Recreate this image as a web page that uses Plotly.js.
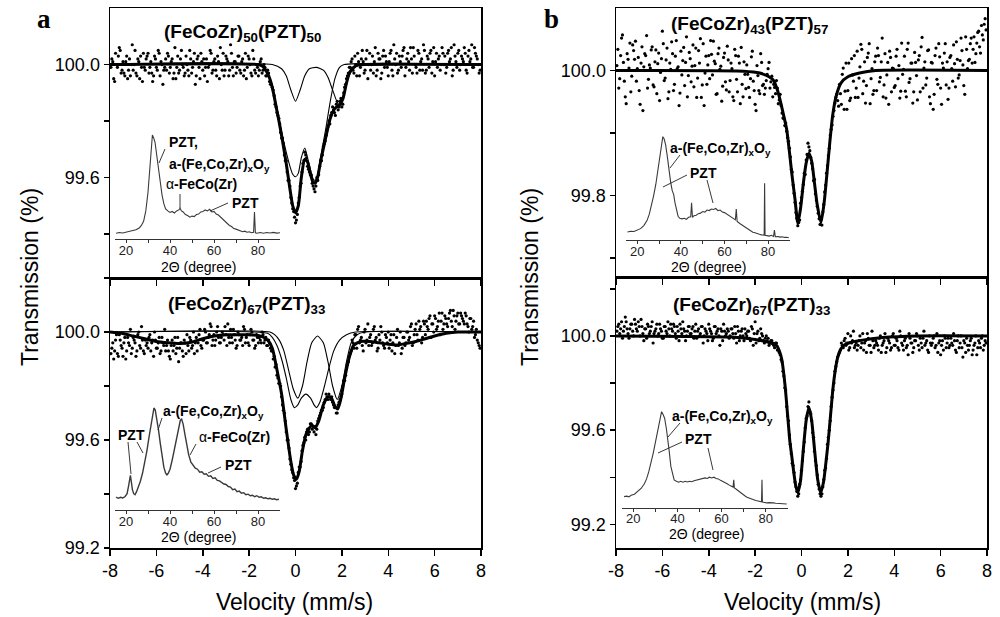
<!DOCTYPE html>
<html>
<head>
<meta charset="utf-8">
<script src="https://cdn.plot.ly/plotly-3.0.1.min.js"></script>
<style>html,body{margin:0;padding:0;background:#fff;}#chart{width:1000px;height:617px;}</style>
</head>
<body>
<div id="chart"></div>
<script>
// ---------- Mössbauer velocity channels (mm/s), two interleaved channel sets ----------
const vel = [
-7.92,-7.84,-7.76,-7.68,-7.60,-7.52,-7.44,-7.36,-7.28,-7.20,
-7.12,-7.04,-6.96,-6.88,-6.80,-6.72,-6.64,-6.56,-6.48,-6.40,
-6.32,-6.24,-6.16,-6.08,-6.00,-5.92,-5.84,-5.76,-5.68,-5.60,
-5.52,-5.44,-5.36,-5.28,-5.20,-5.12,-5.04,-4.96,-4.88,-4.80,
-4.72,-4.64,-4.56,-4.48,-4.40,-4.32,-4.24,-4.16,-4.08,-4.00,
-3.92,-3.84,-3.76,-3.68,-3.60,-3.52,-3.44,-3.36,-3.28,-3.20,
-3.12,-3.04,-2.96,-2.88,-2.80,-2.72,-2.64,-2.56,-2.48,-2.40,
-2.32,-2.24,-2.16,-2.08,-2.00,-1.92,-1.84,-1.76,-1.68,-1.60,
-1.52,-1.44,-1.36,-1.28,-1.20,-1.12,-1.04,-0.96,-0.88,-0.80,
-0.72,-0.64,-0.56,-0.48,-0.40,-0.32,-0.24,-0.16,-0.08,0.00,
0.08,0.16,0.24,0.32,0.40,0.48,0.56,0.64,0.72,0.80,
0.88,0.96,1.04,1.12,1.20,1.28,1.36,1.44,1.52,1.60,
1.68,1.76,1.84,1.92,2.00,2.08,2.16,2.24,2.32,2.40,
2.48,2.56,2.64,2.72,2.80,2.88,2.96,3.04,3.12,3.20,
3.28,3.36,3.44,3.52,3.60,3.68,3.76,3.84,3.92,4.00,
4.08,4.16,4.24,4.32,4.40,4.48,4.56,4.64,4.72,4.80,
4.88,4.96,5.04,5.12,5.20,5.28,5.36,5.44,5.52,5.60,
5.68,5.76,5.84,5.92,6.00,6.08,6.16,6.24,6.32,6.40,
6.48,6.56,6.64,6.72,6.80,6.88,6.96,7.04,7.12,7.20,
7.28,7.36,7.44,7.52,7.60,7.68,7.76,7.84,7.92];
const vel2 = [
-7.96,-7.88,-7.80,-7.72,-7.64,-7.56,-7.48,-7.40,-7.32,-7.24,
-7.16,-7.08,-7.00,-6.92,-6.84,-6.76,-6.68,-6.60,-6.52,-6.44,
-6.36,-6.28,-6.20,-6.12,-6.04,-5.96,-5.88,-5.80,-5.72,-5.64,
-5.56,-5.48,-5.40,-5.32,-5.24,-5.16,-5.08,-5.00,-4.92,-4.84,
-4.76,-4.68,-4.60,-4.52,-4.44,-4.36,-4.28,-4.20,-4.12,-4.04,
-3.96,-3.88,-3.80,-3.72,-3.64,-3.56,-3.48,-3.40,-3.32,-3.24,
-3.16,-3.08,-3.00,-2.92,-2.84,-2.76,-2.68,-2.60,-2.52,-2.44,
-2.36,-2.28,-2.20,-2.12,-2.04,-1.96,-1.88,-1.80,-1.72,-1.64,
-1.56,-1.48,-1.40,-1.32,-1.24,-1.16,-1.08,-1.00,-0.92,-0.84,
-0.76,-0.68,-0.60,-0.52,-0.44,-0.36,-0.28,-0.20,-0.12,-0.04,
0.04,0.12,0.20,0.28,0.36,0.44,0.52,0.60,0.68,0.76,
0.84,0.92,1.00,1.08,1.16,1.24,1.32,1.40,1.48,1.56,
1.64,1.72,1.80,1.88,1.96,2.04,2.12,2.20,2.28,2.36,
2.44,2.52,2.60,2.68,2.76,2.84,2.92,3.00,3.08,3.16,
3.24,3.32,3.40,3.48,3.56,3.64,3.72,3.80,3.88,3.96,
4.04,4.12,4.20,4.28,4.36,4.44,4.52,4.60,4.68,4.76,
4.84,4.92,5.00,5.08,5.16,5.24,5.32,5.40,5.48,5.56,
5.64,5.72,5.80,5.88,5.96,6.04,6.12,6.20,6.28,6.36,
6.44,6.52,6.60,6.68,6.76,6.84,6.92,7.00,7.08,7.16,
7.24,7.32,7.40,7.48,7.56,7.64,7.72,7.80,7.88,7.96];

// ---------- measured transmission (%) ----------
const ptsA50 = [
100.02,99.95,100.04,99.99,100.06,99.97,100.01,99.96,100.03,99.98,
99.96,100.07,100.00,99.97,100.02,99.95,99.99,100.04,99.98,100.03,
99.97,100.01,99.94,100.03,99.99,100.05,99.96,100.00,99.98,100.02,
100.04,99.97,100.01,99.95,100.06,99.99,99.97,100.02,100.00,99.96,
100.03,99.98,100.05,99.97,100.01,99.93,100.02,99.99,100.04,99.98,
99.96,100.02,99.99,100.05,99.97,100.01,99.98,100.03,99.95,100.00,
100.04,99.98,100.02,99.96,100.07,99.99,100.01,99.97,100.03,99.98,
100.01,99.96,100.04,99.99,100.02,99.97,100.05,99.98,100.00,99.96,
100.01,99.97,100.00,99.96,99.98,99.94,99.93,99.91,99.86,99.83,
99.81,99.76,99.74,99.68,99.66,99.59,99.57,99.51,99.48,99.44,
99.47,99.53,99.58,99.65,99.69,99.67,99.63,99.61,99.58,99.56,
99.57,99.59,99.64,99.66,99.71,99.73,99.77,99.80,99.82,99.85,
99.83,99.86,99.84,99.87,99.85,99.90,99.93,99.96,99.99,100.01,
99.98,100.03,99.96,100.01,99.99,100.05,99.97,100.02,99.95,100.04,
100.00,99.97,100.06,99.98,100.02,99.95,100.03,99.99,100.01,99.96,
100.04,99.98,100.07,100.00,99.97,100.03,99.99,100.05,99.96,100.02,
100.01,100.06,99.97,100.03,99.99,100.05,99.98,100.02,100.07,99.97,
100.03,99.99,100.05,100.01,99.96,100.04,100.02,99.98,100.06,100.00,
99.97,100.04,100.01,100.06,99.98,100.03,99.99,100.05,100.00,100.02,
100.06,99.98,100.03,100.01,100.07,99.99,100.04,100.02,99.97];
const ptsA50b = [
99.99,100.01,99.94,100.00,100.03,100.05,99.98,99.97,100.01,99.95,
100.02,100.00,99.98,100.05,99.96,100.01,100.03,99.94,99.99,100.02,
100.04,99.99,99.97,99.96,100.02,99.98,100.04,100.01,99.93,99.99,
99.98,100.03,99.99,100.02,99.97,99.95,100.03,99.98,100.05,99.99,
99.97,100.00,99.96,100.02,99.99,100.04,99.96,100.03,99.95,100.01,
100.02,99.99,99.94,100.00,100.04,99.98,100.02,99.96,100.01,100.06,
99.98,99.96,100.03,100.01,99.98,100.04,99.96,100.01,99.99,100.03,
99.97,100.02,99.98,99.95,100.03,100.00,99.96,100.02,99.97,99.99,
99.98,100.02,99.98,99.99,99.96,99.97,99.93,99.92,99.89,99.85,
99.82,99.79,99.74,99.72,99.66,99.62,99.59,99.53,99.49,99.46,
99.45,99.51,99.57,99.62,99.66,99.68,99.64,99.62,99.61,99.57,
99.55,99.60,99.61,99.66,99.68,99.72,99.75,99.78,99.79,99.83,
99.84,99.82,99.87,99.85,99.88,99.86,99.92,99.95,99.97,99.99,
100.02,99.97,100.00,100.04,99.96,100.02,100.01,99.98,100.05,100.00,
99.98,100.03,100.01,99.96,100.04,100.02,99.97,100.05,100.03,99.99,
100.01,100.05,99.96,100.02,100.04,99.98,100.01,100.03,100.06,99.99,
100.04,99.98,100.02,100.06,100.00,99.97,100.04,100.01,99.98,100.05,
99.98,100.02,100.04,99.97,100.06,100.01,99.99,100.03,100.00,100.04,
100.03,99.99,100.05,100.02,99.96,100.07,100.01,100.04,99.98,100.03,
100.01,100.04,99.97,100.05,100.02,99.99,100.06,100.03,100.00,99.98];

const ptsA67 = [
99.94,99.90,99.97,99.92,99.99,99.95,99.91,99.98,99.93,99.96,
100.01,99.94,99.97,99.91,99.99,99.95,100.02,99.93,99.97,99.96,
99.98,99.93,99.97,100.00,99.94,99.96,99.92,99.98,99.95,99.93,
99.97,99.91,99.95,99.93,99.98,99.94,99.89,99.96,99.93,99.97,
99.92,99.95,99.98,99.94,100.00,99.96,99.93,99.99,99.95,99.97,
100.01,99.96,99.98,100.03,99.95,99.99,99.97,100.02,99.96,99.98,
99.99,100.02,99.95,99.98,100.01,99.96,99.99,99.94,100.00,99.97,
99.98,100.02,99.96,99.99,99.95,100.01,99.97,99.94,99.99,99.96,
99.97,100.00,99.96,99.98,99.95,99.96,99.93,99.90,99.87,99.84,
99.81,99.80,99.73,99.70,99.63,99.60,99.53,99.49,99.46,99.42,
99.44,99.50,99.52,99.58,99.61,99.63,99.62,99.66,99.64,99.63,
99.62,99.67,99.69,99.71,99.72,99.75,99.76,99.77,99.75,99.74,
99.72,99.70,99.73,99.75,99.77,99.82,99.84,99.88,99.91,99.93,
99.96,99.99,99.94,100.02,99.97,99.95,100.00,99.96,100.03,99.98,
99.95,100.01,99.97,99.93,99.99,100.02,99.96,99.94,99.98,100.00,
99.97,99.93,99.99,99.95,100.01,99.96,99.92,99.98,99.95,100.00,
99.97,100.02,99.95,99.99,100.03,99.97,100.01,99.96,100.04,99.99,
100.02,100.05,99.98,100.03,100.06,100.01,100.04,99.99,100.07,100.03,
100.05,100.02,100.07,100.04,100.08,100.01,100.06,100.03,100.07,100.05,
100.03,100.06,100.02,100.05,100.01,100.04,99.99,99.97,99.95];
const ptsA67b = [
99.92,99.96,99.93,99.99,99.91,99.97,99.94,99.96,99.90,99.98,
99.95,99.92,99.98,99.96,99.93,100.00,99.94,99.97,99.92,99.95,
99.94,99.99,99.96,99.91,99.97,99.94,99.98,99.93,99.96,100.01,
99.95,99.93,99.90,99.97,99.95,99.92,99.98,99.94,99.96,99.91,
99.96,99.99,99.93,99.97,99.95,99.92,99.98,99.96,100.01,99.94,
99.97,100.00,99.96,99.99,100.02,99.97,99.95,100.00,99.98,99.96,
100.00,99.97,99.99,100.03,99.96,99.98,100.01,99.97,99.95,99.99,
99.97,99.95,100.01,99.98,99.96,99.99,100.00,99.97,99.95,99.98,
99.98,99.96,99.99,99.97,99.95,99.97,99.94,99.93,99.91,99.88,
99.83,99.81,99.76,99.71,99.67,99.60,99.57,99.51,99.48,99.45,
99.43,99.48,99.50,99.56,99.59,99.60,99.64,99.63,99.66,99.65,
99.65,99.64,99.68,99.70,99.71,99.74,99.77,99.75,99.76,99.76,
99.73,99.72,99.70,99.74,99.76,99.80,99.82,99.87,99.89,99.92,
99.97,99.94,99.99,100.01,99.96,99.98,99.93,100.01,99.97,99.95,
99.99,99.96,100.02,99.98,99.94,99.97,100.00,99.95,99.99,99.96,
99.94,99.99,99.96,99.92,99.98,99.95,100.00,99.94,99.98,99.96,
100.00,99.98,100.03,99.96,100.01,99.99,100.04,100.02,99.98,100.03,
100.04,100.01,100.06,100.03,100.00,100.05,100.02,100.07,100.04,100.01,
100.06,100.03,100.05,100.08,100.02,100.06,100.04,100.07,100.03,100.06,
100.04,100.07,100.03,100.00,100.05,100.02,99.98,100.01,99.96,99.94];

const ptsB43 = [
100.034,99.987,100.052,100.013,99.958,100.027,100.004,99.966,100.041,100.018,
99.983,100.021,99.946,100.038,100.006,100.024,99.972,100.009,100.033,99.977,
100.014,99.963,100.028,99.997,100.063,99.984,100.017,99.955,100.012,100.046,
99.968,100.023,100.003,99.944,100.031,100.016,99.976,100.054,99.992,100.019,
100.007,99.974,100.036,99.988,100.012,99.957,100.043,99.996,99.978,100.024,
100.048,99.993,100.015,99.962,100.027,100.002,99.951,100.021,99.982,100.039,
99.966,100.012,99.958,100.034,99.986,100.023,99.947,99.978,100.014,99.971,
99.994,99.957,100.022,99.983,99.946,100.008,99.968,100.027,99.976,99.962,
99.984,100.003,99.972,99.991,99.978,99.963,99.972,99.953,99.944,99.924,
99.912,99.903,99.887,99.862,99.838,99.804,99.773,99.752,99.761,99.797,
99.818,99.834,99.866,99.878,99.861,99.843,99.826,99.793,99.772,99.754,
99.753,99.786,99.817,99.848,99.876,99.906,99.927,99.948,99.962,99.943,
99.963,99.994,99.938,100.012,99.968,99.952,100.019,99.983,99.957,100.031,
99.988,100.042,99.963,100.014,99.976,100.028,99.947,100.003,99.968,100.023,
100.036,99.982,100.014,99.958,100.027,99.993,99.946,100.021,100.004,99.973,
100.023,99.987,99.956,100.044,100.002,99.967,100.034,99.981,100.012,99.948,
100.029,99.992,100.017,99.966,100.053,100.004,99.977,100.032,99.958,100.013,
99.938,100.024,99.986,100.043,99.972,100.012,100.028,99.977,99.954,100.021,
100.003,100.041,99.974,100.018,99.993,100.052,100.009,99.962,100.034,100.016,
100.043,100.012,100.054,100.027,100.061,100.038,100.072,100.049,100.083];
const ptsB43b = [
100.008,99.972,100.024,100.057,99.983,99.947,100.018,100.044,99.991,100.032,
100.047,100.003,99.968,100.012,99.936,100.027,100.056,99.986,100.004,100.038,
99.974,100.033,100.011,99.952,100.019,100.043,99.988,100.036,99.966,100.002,
100.027,99.978,100.048,100.006,99.964,99.993,100.037,100.013,99.958,100.029,
99.982,100.041,100.008,99.957,100.032,100.051,99.977,99.944,100.023,100.009,
99.987,100.026,100.047,100.011,99.963,100.036,100.007,99.975,100.028,99.969,
100.017,99.984,100.003,99.952,100.024,99.966,100.012,100.037,99.958,99.994,
100.009,99.973,99.987,100.031,99.968,99.936,99.992,99.963,100.013,99.978,
99.972,99.994,100.013,99.982,99.958,99.973,99.984,99.947,99.962,99.932,
99.923,99.916,99.893,99.876,99.842,99.817,99.789,99.764,99.757,99.788,
99.807,99.836,99.857,99.884,99.872,99.852,99.824,99.803,99.783,99.763,
99.762,99.774,99.806,99.836,99.864,99.897,99.913,99.936,99.957,99.952,
99.978,99.946,100.004,99.967,99.938,100.012,99.956,99.993,100.024,99.972,
99.957,100.006,100.034,99.983,99.948,100.021,100.043,99.987,99.962,100.014,
99.968,100.024,99.989,100.052,99.977,99.956,100.013,100.031,99.966,100.003,
99.976,100.034,100.008,99.967,99.994,100.023,99.958,100.044,99.987,100.012,
99.966,100.013,99.953,100.024,100.038,99.972,100.014,99.988,100.033,99.947,
100.012,99.962,100.036,99.978,100.022,99.946,100.004,100.043,100.014,99.972,
100.024,99.983,100.011,100.046,99.988,100.016,100.032,99.976,100.054,100.003,
100.018,100.052,100.034,100.013,100.044,100.063,100.028,100.057,100.074,100.065];

const ptsB67 = [
100.04,100.01,100.06,100.02,100.08,100.03,99.99,100.05,100.02,100.07,
100.03,100.06,100.00,100.04,99.98,100.03,100.05,100.01,100.04,99.97,
100.02,100.05,100.01,100.03,99.99,100.04,100.02,100.06,100.00,100.03,
100.05,100.01,100.04,99.98,100.03,100.06,100.02,100.00,100.04,100.01,
100.03,99.99,100.05,100.02,100.00,100.04,99.97,100.03,100.01,100.05,
100.02,99.98,100.04,100.01,100.03,99.96,100.02,100.05,100.00,100.03,
99.99,100.03,100.01,100.04,99.97,100.02,100.00,100.03,99.98,100.01,
100.02,99.99,100.04,99.96,100.06,100.01,99.98,100.03,100.00,99.97,
100.00,99.99,99.97,99.98,99.96,99.97,99.94,99.93,99.90,99.85,
99.78,99.70,99.64,99.54,99.46,99.42,99.36,99.32,99.37,99.43,
99.51,99.61,99.66,99.72,99.67,99.59,99.51,99.45,99.37,99.33,
99.33,99.39,99.44,99.54,99.60,99.70,99.77,99.85,99.89,99.92,
99.94,99.96,99.98,99.96,100.01,99.95,99.97,100.02,99.96,99.94,
99.98,99.95,100.01,99.97,99.93,99.99,99.96,100.02,99.95,99.98,
99.96,99.99,99.93,99.97,100.01,99.95,99.98,99.94,100.00,99.96,
99.99,99.95,100.02,99.97,99.94,99.99,99.96,100.01,99.97,99.93,
99.98,100.01,99.96,99.99,99.95,100.02,99.97,99.94,100.00,99.96,
99.99,99.95,100.01,99.97,99.92,99.98,100.00,99.95,99.99,99.96,
99.97,100.01,99.94,99.98,99.95,100.00,99.91,99.97,99.99,99.94,
99.98,99.92,99.96,100.00,99.95,99.97,99.99,99.94,99.98];
const ptsB67b = [
100.02,100.05,100.03,99.99,100.04,100.06,100.01,100.03,100.05,100.00,
100.05,100.02,100.04,100.07,100.01,100.03,99.99,100.04,100.02,100.06,
100.01,100.03,100.00,100.05,100.02,99.99,100.04,100.01,100.03,100.05,
100.02,100.04,99.99,100.02,100.05,100.01,100.03,99.98,100.02,100.04,
100.01,100.04,100.02,99.99,100.03,100.01,100.04,100.00,100.02,99.98,
100.03,100.01,99.99,100.04,100.02,100.00,100.03,99.98,100.02,100.01,
100.02,100.00,100.03,99.99,100.01,100.04,99.98,100.02,100.00,100.03,
100.00,100.02,99.98,100.03,100.01,99.97,100.02,99.99,100.01,99.98,
99.99,99.98,99.96,99.98,99.97,99.95,99.97,99.94,99.92,99.89,
99.83,99.77,99.66,99.58,99.50,99.45,99.38,99.34,99.33,99.39,
99.47,99.55,99.65,99.70,99.68,99.64,99.57,99.47,99.41,99.35,
99.32,99.36,99.43,99.48,99.57,99.64,99.74,99.80,99.87,99.91,
99.93,99.97,99.95,99.99,99.97,99.94,100.00,99.98,99.95,99.97,
99.96,100.00,99.97,99.94,99.98,100.01,99.96,99.93,99.98,99.96,
99.97,99.94,100.00,99.96,99.98,99.93,99.99,99.97,99.95,100.01,
99.96,99.98,99.94,100.00,99.96,99.98,99.95,99.92,99.99,99.97,
99.95,99.98,100.00,99.94,99.97,99.99,99.96,99.98,99.93,99.97,
99.97,100.00,99.96,99.93,99.98,99.96,99.94,99.99,99.97,99.95,
99.99,99.96,99.98,99.93,100.00,99.97,99.95,99.98,99.93,99.96,
99.96,99.99,99.94,99.97,99.92,99.98,99.95,100.00,99.96,99.97];

// ---------- fitted envelopes and subspectra ----------
const fitA50_v = [-8,-1.6,-1.4,-1.25,-1.1,-0.95,-0.81,-0.69,-0.57,-0.4,-0.24,-0.12,0,0.12,0.25,0.4,0.52,0.64,0.75,0.85,0.95,1.1,1.3,1.5,1.7,1.9,2.05,2.2,2.35,2.5,2.7,3,8];
const fitA50_T = [100,100,99.993,99.975,99.948,99.90,99.84,99.79,99.735,99.65,99.56,99.50,99.476,99.50,99.60,99.665,99.655,99.615,99.585,99.58,99.60,99.665,99.74,99.81,99.845,99.857,99.88,99.935,99.975,99.99,99.998,100,100];
const subA50a_v = [-8,-1.4,-1.1,-0.95,-0.81,-0.69,-0.57,-0.4,-0.24,-0.12,0,0.12,0.25,0.4,0.52,0.64,0.75,0.85,0.95,1.1,1.3,1.5,1.7,1.9,2.1,8];
const subA50a_T = [100,99.993,99.95,99.905,99.85,99.80,99.75,99.69,99.64,99.612,99.603,99.615,99.67,99.705,99.67,99.63,99.597,99.59,99.61,99.68,99.77,99.87,99.95,99.99,100,100];
const subA50b_v = [-8,-1,-0.6,-0.4,-0.2,0,0.2,0.4,0.6,0.9,1.2,1.4,1.6,1.85,2.05,2.25,2.5,2.8,8];
const subA50b_T = [100,100,99.985,99.96,99.91,99.87,99.91,99.96,99.985,99.99,99.98,99.955,99.91,99.86,99.89,99.95,99.985,100,100];

const fitA67_v = [-8,-7.5,-7,-6.5,-6,-5.5,-5,-4.5,-4,-3.5,-3,-2.5,-2,-1.5,-1.2,-1,-0.8,-0.6,-0.4,-0.2,-0.08,0.04,0.15,0.3,0.45,0.6,0.72,0.84,1,1.2,1.4,1.55,1.7,1.82,1.95,2.1,2.3,2.5,2.8,3.2,3.6,4,4.4,4.8,5.2,5.6,6,6.5,7,8];
const fitA67_T = [100,99.995,99.985,99.975,99.965,99.96,99.957,99.962,99.975,99.985,99.99,99.99,99.99,99.985,99.97,99.94,99.86,99.77,99.64,99.52,99.47,99.455,99.48,99.56,99.62,99.645,99.655,99.645,99.67,99.73,99.76,99.755,99.725,99.715,99.75,99.82,99.90,99.95,99.965,99.965,99.96,99.955,99.952,99.958,99.965,99.975,99.985,99.995,100,100];
const subA67a_v = [-8,-1.2,-1,-0.8,-0.6,-0.4,-0.2,-0.05,0.1,0.25,0.45,0.65,0.8,0.9,1.05,1.25,1.45,1.65,1.9,2.2,2.6,8];
const subA67a_T = [100,99.995,99.98,99.95,99.90,99.83,99.75,99.72,99.73,99.755,99.77,99.755,99.73,99.72,99.74,99.80,99.87,99.93,99.97,99.99,100,100];
const subA67b_v = [-8,-1.1,-0.9,-0.7,-0.5,-0.3,-0.1,0.1,0.3,0.5,0.7,0.95,1.2,1.4,1.6,1.8,2.0,2.2,2.4,2.65,3,8];
const subA67b_T = [100,100,99.99,99.97,99.93,99.86,99.79,99.755,99.80,99.89,99.96,99.985,99.96,99.89,99.80,99.75,99.80,99.89,99.96,99.99,100,100];

const fitB43_v = [-8,-2.5,-1.8,-1.4,-1.2,-1.05,-0.93,-0.78,-0.64,-0.52,-0.42,-0.28,-0.16,-0.04,0.08,0.2,0.32,0.44,0.56,0.68,0.84,0.98,1.1,1.22,1.35,1.5,1.7,2,2.5,3.2,8];
const fitB43_T = [100,99.999,99.996,99.99,99.984,99.97,99.954,99.93,99.906,99.87,99.836,99.794,99.756,99.78,99.82,99.852,99.868,99.855,99.82,99.785,99.757,99.79,99.836,99.885,99.93,99.96,99.98,99.99,99.996,100,100];

const fitB67_v = [-8,-3,-2,-1.5,-1.2,-1.07,-0.95,-0.85,-0.71,-0.6,-0.5,-0.42,-0.35,-0.25,-0.16,-0.05,0.08,0.2,0.32,0.44,0.56,0.7,0.83,0.95,1.05,1.15,1.25,1.35,1.45,1.55,1.7,1.85,2.1,2.5,3.5,5,8];
const fitB67_T = [100,99.995,99.985,99.975,99.965,99.959,99.935,99.90,99.79,99.665,99.55,99.49,99.434,99.365,99.335,99.38,99.52,99.64,99.697,99.64,99.52,99.39,99.335,99.38,99.46,99.55,99.66,99.77,99.85,99.905,99.945,99.962,99.972,99.98,99.993,100,100];

// ---------- XRD insets: 2Theta (deg) and intensity (arb.) ----------
const xrdA50_t = [15.5,17,18.5,20,21.5,23,24.5,26,27,28,29,30,30.8,31.5,32,32.6,33.2,34,34.8,35.6,36.4,37.2,38,39,40,41,42,43,44,44.6,45.2,46,47,48,49,50,51,52,53,54,55,56,57,58,59,60,61,62,63,64,65,66,67,68,69,70,71,72,73,74,75,76,77,78,78.4,78.8,79.5,81,82.5,84,85.5,87,88.5,90];
const xrdA50_i = [5.5,6.2,5.8,6.5,6.8,7.5,8.8,10.5,13,17,27,45,65,88,100,97,93,80,66,52,42,34,29,27,25.5,26.5,25,27,28,29.5,27,26,23.5,22.5,21,22,21.5,23.5,24,26,26.5,28,27,28.5,26,26.5,24,23,21,19.5,17,15.5,13,12,10,9.5,8.5,8,7,7.5,6.5,7,6,6.5,26,6,5.5,6.2,5.6,6.3,5.8,6.4,5.7,6];

const xrdA67_t = [15.5,16.5,17.5,18.5,19.5,20.5,21.2,21.7,22,22.4,22.9,23.5,24.1,24.8,25.5,26.5,27.5,28.5,29.5,30.5,31.5,32.2,32.7,33.3,34,34.8,35.6,36.4,37.2,38,38.6,39.2,40,41,42,43,44,44.7,45.3,46,46.8,47.6,48.5,49.5,50.5,51.5,52.5,53.5,54.5,55.5,56.5,57.5,58.5,59.5,60.5,61.5,62.5,63.5,64.5,65.5,66.5,67.5,68.5,69.5,70.5,71.5,72.5,73.5,74.5,75.5,76.5,77.5,78.5,79.5,80.5,81.5,82.5,83.5,84.5,85.5,86.5,87.5,88.5,89.5];
const xrdA67_i = [12.7,11.5,12.5,11.8,13,16,24,32,34,28,20,16,15,18,22,28,36,46,58,72,86,96,100,98,90,78,65,52,42,36,34.5,36,40,49,60,72,83,88,89,84,74,63,54,47,44,41,40,37,37.5,35,35.5,33,33.5,31,31.5,29,28.5,27,25.5,25,23,22.5,20,20.5,18,18.5,16.5,17,15,15.5,14,14.5,13,14,12.5,13,11.5,12,11,11.5,10.5,11,10,10.5];

const xrdB43_t = [15.5,17,18.5,20,21.5,23,24.5,25.5,26.5,27.5,28.5,29.5,30.3,31,31.7,32.3,33,33.7,34.5,35.3,36,36.7,37.3,38,38.7,39.5,40.5,41.5,42.5,43.5,44.5,44.9,45.3,46,47,48,49,50,51,52,53,54,55,56,57,58,59,60,61,62,63,64,65,65.4,65.8,67,68,69,70,71,72,73,74,75,76,77,78.2,78.4,78.6,79.5,80.5,81.5,82.5,82.9,83.3,84.5,85.5,86.5,87.5,88.5,89.5];
const xrdB43_i = [7.7,8.5,8.2,9.5,11,14,19,25,33,43,54,68,80,92,100,98,92,82,68,56,48,44,36,28,23,21,20.5,21,20,22,22.5,36,22,23.5,24,25.5,26,27.5,27,29,28.5,30,29.5,30.5,28.5,29,27,26.5,25,24,22,21,19.5,30,18,16,14.5,13,11.5,10,9,7.5,7,6,5.5,5,4.8,55,4.5,4.2,3.8,4.5,3.5,9.5,3.2,3.4,2.8,3.1,2.5,2.7,2.2];

const xrdB67_t = [15.8,17,18,19,20.5,22,23.5,25,26,27,28,29,30,31,32,32.8,33.5,34.2,35,35.5,36.2,37,37.8,38.5,39.5,40.5,41.5,42.5,43.5,44.5,45.5,46.5,47.5,48.5,49.5,50.5,51.5,52.5,53.5,54.5,55.5,56.5,57.5,58.5,59.5,60.5,61.5,62.5,63.5,64.5,65.2,65.5,65.8,66.5,67.5,68.5,69.5,70.5,71.5,72.5,73.5,74.5,75.5,76.5,77.5,78.1,78.3,78.5,79.5,80.5,81.5,82.5,83.5,84.5,85.5,86.5,87.5,88.5,89.5];
const xrdB67_i = [11.5,12,11.3,13,14,16.7,20,25,30,37.5,46,56.7,68,81,93,100,97,93,82,74,60,43,34,29,27.5,26.5,27.5,26.5,27.5,26.8,27.5,27,28,28.5,29,29.5,30,31,30.5,31.8,31,31.8,30.5,30,28.5,27.5,26,25,23.5,22.5,21.5,29,20.5,19.5,17.5,16,14,12.5,11,10,9,8.2,7.5,7,6.5,6.2,29,6,5.5,5,5.3,4.8,5,4.6,4.4,4.7,4.2,4.3,3.9];

// ---------- tick labels ----------
const velTicks = [-8,-6,-4,-2,0,2,4,6,8];
const velTickText = ['-8','-6','-4','-2','0','2','4','6','8'];
const xrdTicks = [20,30,40,50,60,70,80];
const xrdTickText = ['20','','40','','60','','80'];

// ---------- layout helpers (pixel -> paper) ----------
const W = 1000, H = 617;
const PX = x => x / W, PY = y => 1 - y / H;
const FONT = 'Liberation Sans, Arial, sans-serif';

function mainX(dom, anchor, labels) {
  return {domain: dom, anchor: anchor, range: [-8, 8], showline: true, mirror: true, linecolor: 'black', linewidth: 1.5,
    ticks: 'outside', ticklen: 6, tickwidth: 1.5, tickcolor: 'black', tickvals: velTicks, ticktext: velTickText,
    showticklabels: labels, tickfont: {size: 18, color: 'black'}, showgrid: false, zeroline: false, fixedrange: true};
}
function mainY(dom, anchor, rng, vals, txt) {
  return {domain: dom, anchor: anchor, range: rng, showline: true, mirror: true, linecolor: 'black', linewidth: 1.5,
    ticks: 'outside', ticklen: 5, tickwidth: 1.5, tickcolor: 'black', tickvals: vals, ticktext: txt,
    tickfont: {size: 18, color: 'black'}, showgrid: false, zeroline: false, fixedrange: true};
}
function insetX(xl, xr, anchor) {
  return {domain: [PX(xl), PX(xr)], anchor: anchor, range: [15, 90], showline: true, linecolor: '#333', linewidth: 1,
    ticks: 'outside', ticklen: 3, tickwidth: 1, tickcolor: '#333', tickvals: xrdTicks, ticktext: xrdTickText,
    ticklabelstandoff: -4, tickfont: {size: 13, color: '#222'}, showgrid: false, zeroline: false, fixedrange: true};
}
function insetY(yb, y100, anchor) {
  const top = yb - (yb - y100) * 1.04;
  return {domain: [PY(yb), PY(top)], anchor: anchor, range: [0, 104], visible: false, showgrid: false, zeroline: false, fixedrange: true};
}

const dot = {size: 3.2, color: 'black'};
const thick = {color: 'black', width: 3, shape: 'spline', smoothing: 0.6};
const thin = {color: 'black', width: 1.1, shape: 'spline', smoothing: 0.6};
const xrdLine = {color: '#3a3a3a', width: 1.1};

const traces = [
  {x: vel.concat(vel2), y: ptsA50.concat(ptsA50b), xaxis: 'x', yaxis: 'y', mode: 'markers', marker: dot},
  {x: subA50a_v, y: subA50a_T, xaxis: 'x', yaxis: 'y', mode: 'lines', line: thin},
  {x: subA50b_v, y: subA50b_T, xaxis: 'x', yaxis: 'y', mode: 'lines', line: thin},
  {x: fitA50_v, y: fitA50_T, xaxis: 'x', yaxis: 'y', mode: 'lines', line: thick},

  {x: vel.concat(vel2), y: ptsA67.concat(ptsA67b), xaxis: 'x2', yaxis: 'y2', mode: 'markers', marker: dot},
  {x: subA67a_v, y: subA67a_T, xaxis: 'x2', yaxis: 'y2', mode: 'lines', line: thin},
  {x: subA67b_v, y: subA67b_T, xaxis: 'x2', yaxis: 'y2', mode: 'lines', line: thin},
  {x: fitA67_v, y: fitA67_T, xaxis: 'x2', yaxis: 'y2', mode: 'lines', line: thick},

  {x: vel.concat(vel2), y: ptsB43.concat(ptsB43b), xaxis: 'x3', yaxis: 'y3', mode: 'markers', marker: dot},
  {x: fitB43_v, y: fitB43_T, xaxis: 'x3', yaxis: 'y3', mode: 'lines', line: thick},

  {x: vel.concat(vel2), y: ptsB67.concat(ptsB67b), xaxis: 'x4', yaxis: 'y4', mode: 'markers', marker: dot},
  {x: fitB67_v, y: fitB67_T, xaxis: 'x4', yaxis: 'y4', mode: 'lines', line: thick},

  {x: xrdA50_t, y: xrdA50_i, xaxis: 'x5', yaxis: 'y5', mode: 'lines', line: xrdLine},
  {x: xrdA67_t, y: xrdA67_i, xaxis: 'x6', yaxis: 'y6', mode: 'lines', line: {color: '#3a3a3a', width: 1.4}},
  {x: xrdB43_t, y: xrdB43_i, xaxis: 'x7', yaxis: 'y7', mode: 'lines', line: xrdLine},
  {x: xrdB67_t, y: xrdB67_i, xaxis: 'x8', yaxis: 'y8', mode: 'lines', line: xrdLine}
];

function txt(text, x, y, size, xanchor, extra) {
  return Object.assign({xref: 'paper', yref: 'paper', x: PX(x), y: PY(y), text: text, showarrow: false,
    xanchor: xanchor || 'left', yanchor: 'middle', font: {family: FONT, size: size, color: 'black'}}, extra || {});
}
const FEO = '<b>a-(Fe,Co,Zr)<sub>x</sub>O<sub>y</sub></b>';
const AFECO = 'α<b>-FeCo(Zr)</b>';
const SERIF = {family: 'Liberation Serif, Times New Roman, serif', size: 27, color: 'black'};

const annotations = [
  txt('<b>a</b>', 44, 19, 26, 'center', {font: SERIF}),
  txt('<b>b</b>', 551, 19, 26, 'center', {font: SERIF}),
  txt('<b>(FeCoZr)<sub>50</sub>(PZT)<sub>50</sub></b>', 242, 33, 19, 'center'),
  txt('<b>(FeCoZr)<sub>67</sub>(PZT)<sub>33</sub></b>', 246, 305, 19, 'center'),
  txt('<b>(FeCoZr)<sub>43</sub>(PZT)<sub>57</sub></b>', 749, 25, 19, 'center'),
  txt('<b>(FeCoZr)<sub>67</sub>(PZT)<sub>33</sub></b>', 751, 306, 19, 'center'),
  txt('Transmission (%)', 30, 277, 23, 'center', {textangle: -90}),
  txt('Transmission (%)', 530, 277, 23, 'center', {textangle: -90}),
  txt('Velocity (mm/s)', 294, 602, 23, 'center'),
  txt('Velocity (mm/s)', 802, 602, 23, 'center'),
  txt('2Θ (degree)', 198, 267, 14, 'center'),
  txt('2Θ (degree)', 198, 537, 14, 'center'),
  txt('2Θ (degree)', 708, 267, 14, 'center'),
  txt('2Θ (degree)', 706, 534, 14, 'center'),
  // inset labels a (top)
  txt('<b>PZT,</b>', 167, 142, 14),
  txt(FEO, 167, 165, 14),
  txt(AFECO, 164, 184, 14),
  txt('<b>PZT</b>', 230, 203, 14),
  // inset labels a (bottom)
  txt('<b>PZT</b>', 116, 435, 14),
  txt(FEO, 161, 412, 14),
  txt(AFECO, 197, 437, 14),
  txt('<b>PZT</b>', 223, 465, 14),
  // inset labels b (top)
  txt(FEO, 668, 149, 14),
  txt('<b>PZT</b>', 688, 173, 14),
  // inset labels b (bottom)
  txt(FEO, 670, 417, 14),
  txt('<b>PZT</b>', 683, 439, 14)
];

function seg(x1, y1, x2, y2) {
  return {type: 'line', xref: 'paper', yref: 'paper', x0: PX(x1), y0: PY(y1), x1: PX(x2), y1: PY(y2), line: {color: '#222', width: 0.9}};
}
const shapes = [
  seg(165, 149, 159, 163), seg(180, 194, 180, 208), seg(228, 203, 210, 211),
  seg(128, 442, 131, 474), seg(137, 442, 143, 453), seg(162, 418, 158, 430), seg(196, 444, 190, 455), seg(221, 467, 208, 473),
  seg(680, 155, 670, 168), seg(687, 175, 663, 187), seg(707, 180, 713, 203),
  seg(680, 423, 668, 437), seg(682, 442, 658, 453), seg(708, 448, 713, 470)
];

const layout = {
  width: W, height: H, margin: {l: 0, r: 0, t: 0, b: 0},
  paper_bgcolor: 'white', plot_bgcolor: 'rgba(0,0,0,0)', showlegend: false,
  font: {family: FONT, color: 'black'},
  xaxis: mainX([PX(110), PX(481)], 'y', false),
  yaxis: mainY([PY(278), PY(8)], 'x', [99.245, 100.2], [99.4, 99.6, 99.8, 100.0], ['', '99.6', '', '100.0']),
  xaxis2: mainX([PX(110), PX(481)], 'y2', true),
  yaxis2: mainY([PY(548), PY(278)], 'x2', [99.2, 100.2], [99.2, 99.4, 99.6, 99.8, 100.0, 100.2], ['99.2', '', '99.6', '', '100.0', '']),
  xaxis3: mainX([PX(616), PX(987)], 'y3', false),
  yaxis3: mainY([PY(277), PY(8)], 'x3', [99.67, 100.1], [99.7, 99.8, 99.9, 100.0], ['', '99.8', '', '100.0']),
  xaxis4: mainX([PX(616), PX(987)], 'y4', true),
  yaxis4: mainY([PY(548), PY(277)], 'x4', [99.1, 100.25], [99.2, 99.4, 99.6, 99.8, 100.0, 100.2], ['99.2', '', '99.6', '', '100.0', '']),
  xaxis5: insetX(115, 280, 'y5'), yaxis5: insetY(239, 135, 'x5'),
  xaxis6: insetX(115, 280, 'y6'), yaxis6: insetY(510, 408, 'x6'),
  xaxis7: insetX(626.4, 789.9, 'y7'), yaxis7: insetY(240, 136.7, 'x7'),
  xaxis8: insetX(622.3, 787.8, 'y8'), yaxis8: insetY(507.7, 411.7, 'x8'),
  annotations: annotations,
  shapes: shapes
};

Plotly.newPlot('chart', traces, layout, {staticPlot: true, displayModeBar: false});
</script>
</body>
</html>
